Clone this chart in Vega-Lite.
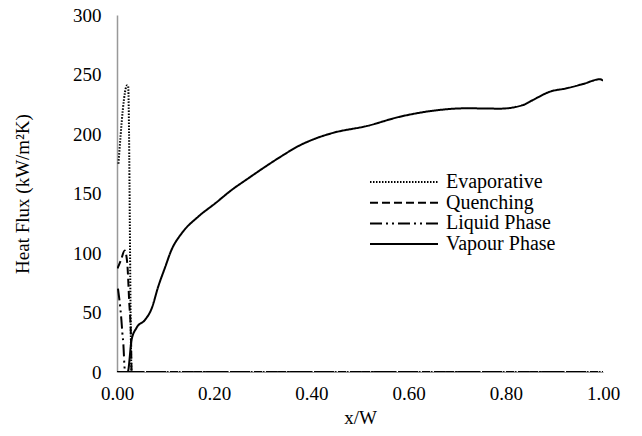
{
  "$schema": "https://vega.github.io/schema/vega-lite/v6.json",
  "width": 486,
  "height": 357,
  "autosize": {"type": "none"},
  "padding": {"left": 117, "top": 15, "right": 39, "bottom": 64},
  "background": "white",
  "config": {
    "view": {"stroke": null},
    "font": "Liberation Serif",
    "axis": {"labelFont": "Liberation Serif", "titleFont": "Liberation Serif", "labelColor": "#000", "titleColor": "#000", "titleFontWeight": "normal", "grid": false, "ticks": false},
    "legend": {"labelFont": "Liberation Serif", "labelColor": "#000"}
  },
  "data": {"values": [
    {"series": "Evaporative", "x": 0.003, "y": 175},
    {"series": "Evaporative", "x": 0.021, "y": 241},
    {"series": "Evaporative", "x": 0.023, "y": 240},
    {"series": "Evaporative", "x": 0.030, "y": 0},
    {"series": "Evaporative", "x": 1.0, "y": 0},
    {"series": "Quenching", "x": 0.001, "y": 87},
    {"series": "Quenching", "x": 0.008, "y": 94},
    {"series": "Quenching", "x": 0.016, "y": 102},
    {"series": "Quenching", "x": 0.021, "y": 92},
    {"series": "Quenching", "x": 0.025, "y": 60},
    {"series": "Quenching", "x": 0.029, "y": 25},
    {"series": "Quenching", "x": 0.030, "y": 0},
    {"series": "Quenching", "x": 1.0, "y": 0},
    {"series": "Liquid Phase", "x": 0.002, "y": 70},
    {"series": "Liquid Phase", "x": 0.009, "y": 44},
    {"series": "Liquid Phase", "x": 0.011, "y": 33},
    {"series": "Liquid Phase", "x": 0.013, "y": 24},
    {"series": "Liquid Phase", "x": 0.016, "y": 2},
    {"series": "Liquid Phase", "x": 0.018, "y": 0},
    {"series": "Liquid Phase", "x": 1.0, "y": 0},
    {"series": "Vapour Phase", "x": 0.0, "y": 0},
    {"series": "Vapour Phase", "x": 0.022, "y": 0},
    {"series": "Vapour Phase", "x": 0.030, "y": 27},
    {"series": "Vapour Phase", "x": 0.040, "y": 37},
    {"series": "Vapour Phase", "x": 0.058, "y": 44},
    {"series": "Vapour Phase", "x": 0.071, "y": 53},
    {"series": "Vapour Phase", "x": 0.085, "y": 72},
    {"series": "Vapour Phase", "x": 0.099, "y": 88},
    {"series": "Vapour Phase", "x": 0.112, "y": 102.5},
    {"series": "Vapour Phase", "x": 0.133, "y": 116.5},
    {"series": "Vapour Phase", "x": 0.167, "y": 130.5},
    {"series": "Vapour Phase", "x": 0.202, "y": 141.7},
    {"series": "Vapour Phase", "x": 0.236, "y": 153},
    {"series": "Vapour Phase", "x": 0.270, "y": 162.7},
    {"series": "Vapour Phase", "x": 0.305, "y": 172.5},
    {"series": "Vapour Phase", "x": 0.339, "y": 181.5},
    {"series": "Vapour Phase", "x": 0.373, "y": 189.8},
    {"series": "Vapour Phase", "x": 0.404, "y": 195.5},
    {"series": "Vapour Phase", "x": 0.445, "y": 201},
    {"series": "Vapour Phase", "x": 0.514, "y": 206.7},
    {"series": "Vapour Phase", "x": 0.582, "y": 214.5},
    {"series": "Vapour Phase", "x": 0.651, "y": 219.6},
    {"series": "Vapour Phase", "x": 0.720, "y": 221.6},
    {"series": "Vapour Phase", "x": 0.788, "y": 221.3},
    {"series": "Vapour Phase", "x": 0.836, "y": 224.4},
    {"series": "Vapour Phase", "x": 0.856, "y": 228.6},
    {"series": "Vapour Phase", "x": 0.891, "y": 235.6},
    {"series": "Vapour Phase", "x": 0.925, "y": 238.4},
    {"series": "Vapour Phase", "x": 0.959, "y": 242},
    {"series": "Vapour Phase", "x": 0.994, "y": 246},
    {"series": "Vapour Phase", "x": 1.0, "y": 244.8}
  ]},
  "mark": {"type": "line", "interpolate": "monotone", "strokeWidth": 2, "color": "#000", "clip": true},
  "encoding": {
    "x": {"field": "x", "type": "quantitative", "title": "x/W",
      "scale": {"domain": [0, 1], "nice": false},
      "axis": {"values": [0, 0.2, 0.4, 0.6, 0.8, 1.0], "format": ".2f", "labelFontSize": 19, "titleFontSize": 19, "labelPadding": 12, "titlePadding": 5, "domain": true, "domainColor": "#999", "labelFlush": false}},
    "y": {"field": "y", "type": "quantitative", "title": "Heat Flux (kW/m²K)",
      "scale": {"domain": [0, 300], "nice": false},
      "axis": {"values": [0, 50, 100, 150, 200, 250, 300], "labelFontSize": 19, "titleFontSize": 19, "labelPadding": 16, "titlePadding": 40, "domainColor": "#999", "domainWidth": 1.5}},
    "strokeDash": {"field": "series", "type": "nominal",
      "scale": {"domain": ["Evaporative", "Quenching", "Liquid Phase", "Vapour Phase"],
        "range": [[1.5, 1.5], [8, 4], [12, 4, 2, 4, 2, 4], [1, 0]]},
      "legend": {"title": null, "orient": "none", "legendX": 277, "legendY": 157, "symbolType": "M-5,0L5,0", "symbolSize": 185, "symbolStrokeWidth": 2, "symbolStrokeColor": "#000", "labelFontSize": 20, "labelOffset": 32, "rowPadding": 0.7}}
  }
}
